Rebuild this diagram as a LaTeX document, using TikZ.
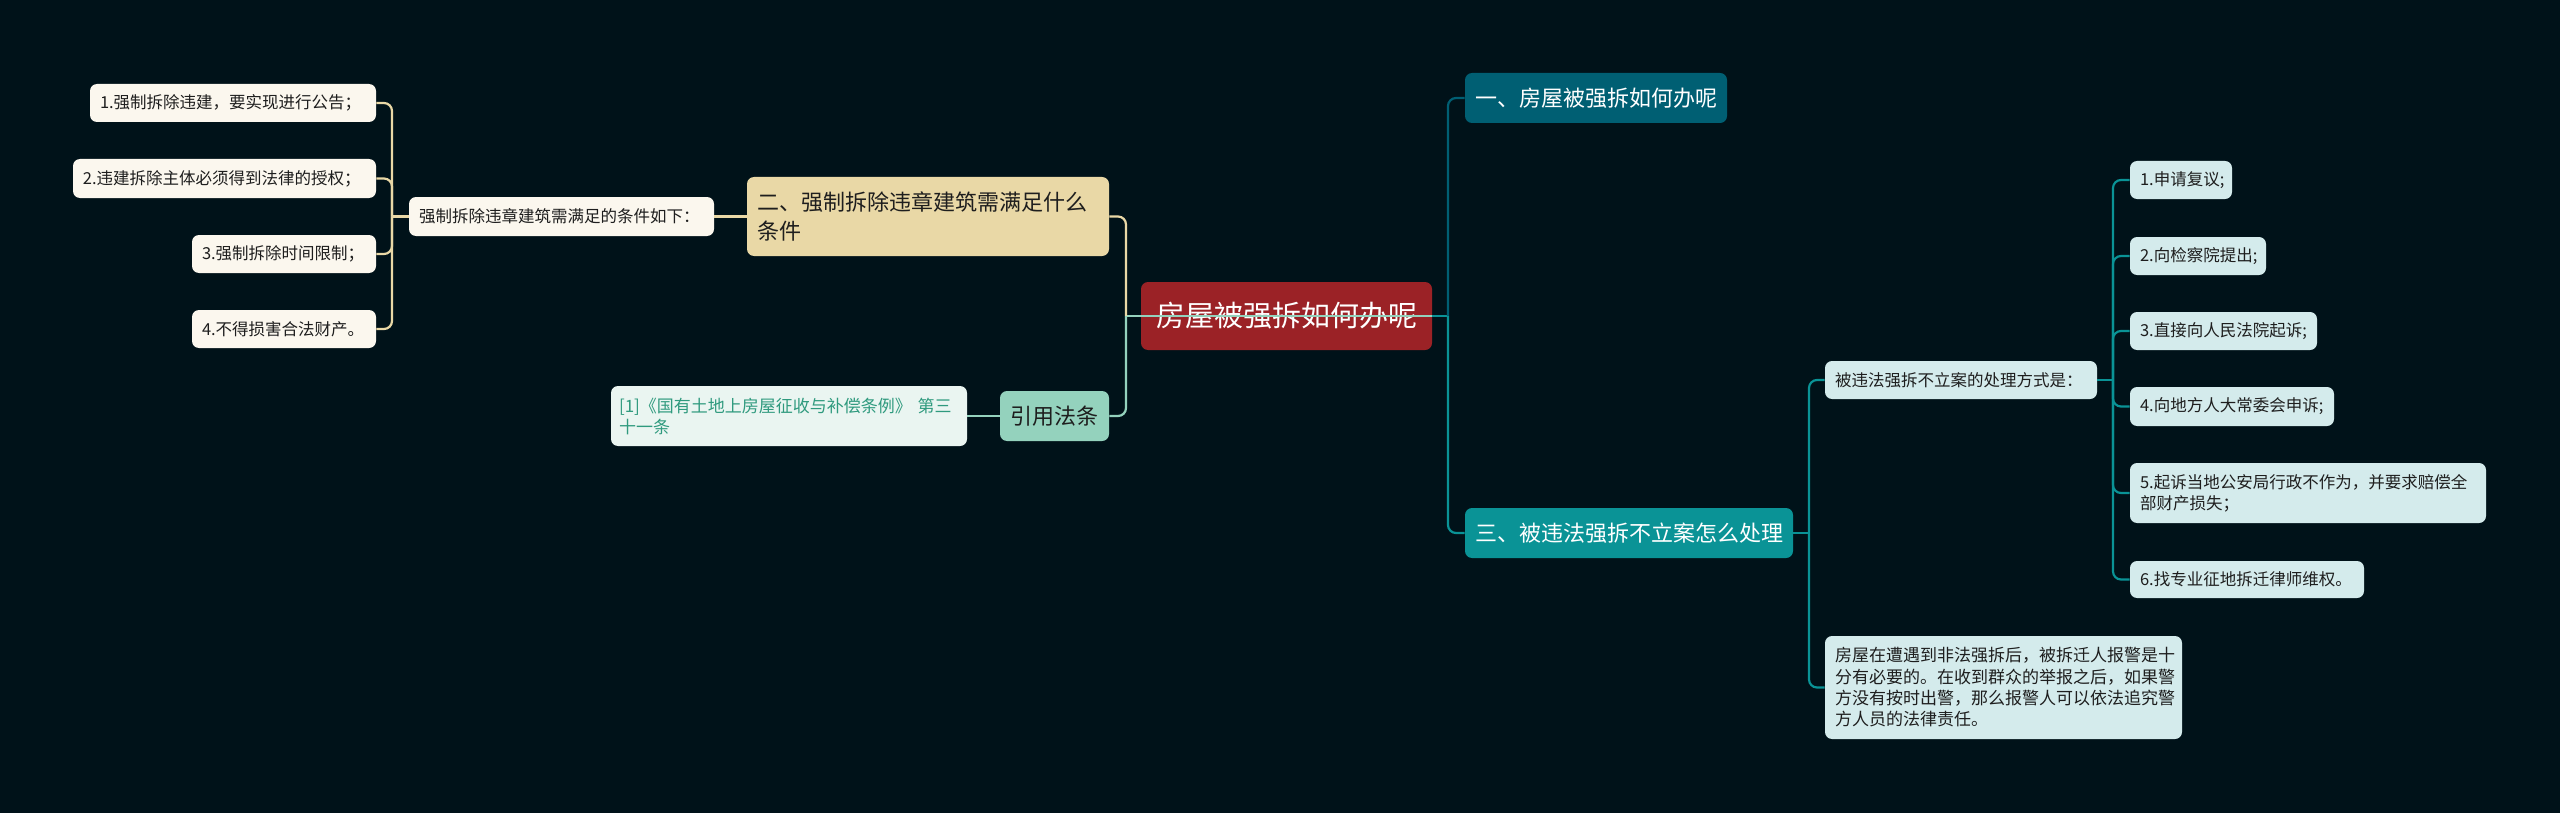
\documentclass[tikz,border=0pt]{standalone}
\usepackage{fontspec}
\setmainfont{Noto Sans CJK SC}
\usepackage{tikz}

\definecolor{bgnavy}{HTML}{001219}
\definecolor{rootred}{HTML}{9B2226}
\definecolor{deepteal}{HTML}{005F73}
\definecolor{midteal}{HTML}{0A9396}
\definecolor{mintc}{HTML}{94D2BD}
\definecolor{beigec}{HTML}{E9D8A6}
\definecolor{creamleaf}{HTML}{FBF7EE}
\definecolor{cyanleaf}{HTML}{D4EBEC}
\definecolor{refleaf}{HTML}{EAF5F1}
\definecolor{reftext}{HTML}{2F9A7E}
\definecolor{darktext}{HTML}{1E1E1E}

\begin{document}
\begin{tikzpicture}[x=0.5pt,y=-0.5pt,
    box/.style={rounded corners=3.5pt, inner xsep=5pt, inner ysep=0pt, align=left},
    small/.style={font=\fontsize{8.25pt}{10.6pt}\selectfont},
    big/.style={font=\fontsize{11pt}{14.5pt}\selectfont},
    leafL/.style={box, small, fill=creamleaf, text=darktext},
    leafR/.style={box, small, fill=cyanleaf, text=darktext},
    wire/.style={line width=1.1pt},
    elbow/.style={wire, rounded corners=4pt}]
    % --- BACKGROUND ---
    \fill[bgnavy] (0,0) rectangle (2560,813);
    \useasboundingbox (0,0) rectangle (2560,813);

    % --- ROOT ---
    \node[box, align=center, fill=rootred, text=white, minimum width=145.5pt, minimum height=34pt,
          font=\fontsize{14.5pt}{17pt}\selectfont] (root) at (1286.5,316) {房屋被强拆如何办呢};

    % --- LEFT BRANCHES ---
    \node[box, big, fill=beigec, text=darktext, text width=171pt, minimum height=39.5pt] (two) at (928,216.5)
        {二、强制拆除违章建筑需满足什么\\条件};
    \node[leafL, text width=142.5pt, minimum height=19.5pt] (mid) at (561.5,216.5) {强制拆除违章建筑需满足的条件如下：};
    \node[leafL, text width=133pt, minimum height=19pt] (l1) at (233,103) {1.强制拆除违建，要实现进行公告；};
    \node[leafL, text width=141.5pt, minimum height=19.5pt] (l2) at (224.5,178.5) {2.违建拆除主体必须得到法律的授权；};
    \node[leafL, text width=82pt, minimum height=19pt] (l3) at (284,254) {3.强制拆除时间限制；};
    \node[leafL, text width=82pt, minimum height=19pt] (l4) at (284,329) {4.不得损害合法财产。};
    \node[box, big, fill=mintc, text=darktext, text width=44.5pt, minimum height=25pt] (cite) at (1054.5,416) {引用法条};
    \node[box, small, inner xsep=4pt, fill=refleaf, text=reftext, text width=170pt, minimum height=30pt,
          font=\fontsize{8.5pt}{10.5pt}\selectfont] (ref) at (789,416)
        {[1]《国有土地上房屋征收与补偿条例》 第三\\十一条};

    % --- RIGHT BRANCHES ---
    \node[box, big, fill=deepteal, text=white, text width=121pt, minimum height=25pt] (one) at (1596,98) {一、房屋被强拆如何办呢};
    \node[box, big, fill=midteal, text=white, text width=154pt, minimum height=25pt] (three) at (1629,533) {三、被违法强拆不立案怎么处理};
    \node[leafR, text width=126pt, minimum height=19pt] (q) at (1961,380) {被违法强拆不立案的处理方式是：};
    \node[leafR, text width=41pt, minimum height=19pt] (r1) at (2181,180) {1.申请复议;};
    \node[leafR, text width=58pt, minimum height=19pt] (r2) at (2198,256) {2.向检察院提出;};
    \node[leafR, text width=83.5pt, minimum height=19pt] (r3) at (2223.5,331) {3.直接向人民法院起诉;};
    \node[leafR, text width=92pt, minimum height=19.5pt] (r4) at (2232,406.5) {4.向地方人大常委会申诉;};
    \node[leafR, text width=168pt, minimum height=30pt] (r5) at (2308,493)
        {5.起诉当地公安局行政不作为，并要求赔偿全\\部财产损失；};
    \node[leafR, text width=107pt, minimum height=18.5pt] (r6) at (2247,579.5) {6.找专业征地拆迁律师维权。};
    \node[leafR, text width=168.5pt, minimum height=51.5pt, font=\fontsize{8.5pt}{10.65pt}\selectfont] (note) at (2003.5,687.5)
        {房屋在遭遇到非法强拆后，被拆迁人报警是十\\分有必要的。在收到群众的举报之后，如果警\\方没有按时出警，那么报警人可以依法追究警\\方人员的法律责任。};

    % --- CONNECTORS ---
    \coordinate (jl) at (1126,316);
    \coordinate (jr) at (1448,316);
    \coordinate (jm) at (392,216.5);
    \coordinate (j3) at (1809,533);
    \coordinate (jq) at (2113,380);

    \draw[wire, beigec] (root.east) -- (jl);
    \draw[wire, mintc] (root.east) -- (jl);
    \draw[elbow, beigec] (jl) |- (two.east);
    \draw[elbow, mintc] (jl) |- (cite.east);
    \draw[wire, beigec] (two.west) -- (mid.east);
    \draw[wire, beigec] (mid.west) -- (jm);
    \foreach \n in {l1,l2,l3,l4}
        \draw[elbow, beigec] (jm) |- (\n.east);
    \draw[wire, mintc] (cite.west) -- (ref.east);

    \draw[wire, midteal] (root.east) -- (jr);
    \draw[elbow, deepteal] (jr) |- (one.west);
    \draw[elbow, midteal] (jr) |- (three.west);
    \draw[wire, midteal] (three.east) -- (j3);
    \draw[elbow, midteal] (j3) |- (q.west);
    \draw[elbow, midteal] (j3) |- (note.west);
    \draw[wire, midteal] (q.east) -- (jq);
    \foreach \n in {r1,r2,r3,r4,r5,r6}
        \draw[elbow, midteal] (jq) |- (\n.west);
\end{tikzpicture}
\end{document}
